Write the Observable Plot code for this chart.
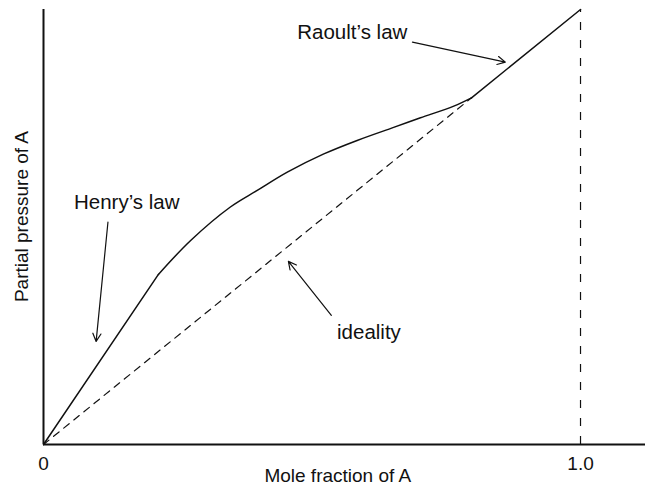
<!DOCTYPE html>
<html>
<head>
<meta charset="utf-8">
<script src="https://cdn.jsdelivr.net/npm/d3@7"></script>
<script src="https://cdn.jsdelivr.net/npm/@observablehq/plot@0.6"></script>
<style>
  html, body { margin: 0; padding: 0; background: #fff; }
</style>
</head>
<body>
<div id="chart"></div>
<script>
// Tick values and labels
const xTicks = [0, 1];
const xTickLabels = ["0", "1.0"];

// Henry's law segment (straight, from origin)
const henryX = [0, 0.214];
const henryY = [0, 0.391];

// Non-ideal curve between Henry and Raoult regions
const curveX = [0.214, 0.274, 0.348, 0.398, 0.454, 0.522, 0.584, 0.652, 0.702, 0.764, 0.797];
const curveY = [0.391, 0.469, 0.546, 0.584, 0.626, 0.668, 0.699, 0.729, 0.751, 0.778, 0.797];

// Raoult's law segment (straight, to pure A)
const raoultX = [0.797, 1.0];
const raoultY = [0.797, 1.0];

// Ideality dashed line
const idealX = [0, 0.797];
const idealY = [0, 0.797];

// Annotations
const labelText = ["Raoult\u2019s law", "Henry\u2019s law", "ideality"];
const labelX = [0.575, 0.155, 0.606];
const labelY = [0.948, 0.557, 0.258];
const arrowX1 = [0.687, 0.120, 0.536];
const arrowY1 = [0.925, 0.511, 0.297];
const arrowX2 = [0.860, 0.098, 0.456];
const arrowY2 = [0.879, 0.237, 0.421];

const xTitle = "Mole fraction of A";
const yTitle = "Partial pressure of A";
const xTitlePos = 0.548;
const yTitlePos = 0.524;

const toRows = (xs, ys) => xs.map((x, i) => ({x, y: ys[i]}));
const labels = labelText.map((t, i) => ({t, x: labelX[i], y: labelY[i]}));
const arrows = arrowX1.map((x1, i) => ({x1, y1: arrowY1[i], x2: arrowX2[i], y2: arrowY2[i]}));

const ink = "#111";
const chart = Plot.plot({
  width: 645,
  height: 487,
  marginLeft: 43,
  marginRight: 0,
  marginTop: 9,
  marginBottom: 43,
  style: {fontFamily: "'Liberation Sans', Arial, Helvetica, sans-serif", fontSize: "19px", color: ink, background: "#fff"},
  x: {domain: [0, 1.121], ticks: xTicks, tickFormat: d => xTickLabels[xTicks.indexOf(d)], tickSize: 0, tickPadding: 12, label: null},
  y: {domain: [0, 1], axis: null},
  marks: [
    Plot.ruleX([1], {y1: 0, y2: 1, stroke: ink, strokeWidth: 1.2, strokeDasharray: "8,10"}),
    Plot.line(toRows(idealX, idealY), {x: "x", y: "y", stroke: ink, strokeWidth: 1.2, strokeDasharray: "7,6"}),
    Plot.line(toRows(henryX, henryY), {x: "x", y: "y", stroke: ink, strokeWidth: 1.5}),
    Plot.line(toRows(curveX, curveY), {x: "x", y: "y", stroke: ink, strokeWidth: 1.5, curve: "catmull-rom"}),
    Plot.line(toRows(raoultX, raoultY), {x: "x", y: "y", stroke: ink, strokeWidth: 1.5}),
    Plot.ruleX([0], {y1: 0, y2: 1, stroke: ink, strokeWidth: 2}),
    Plot.ruleY([0], {stroke: ink, strokeWidth: 2}),
    Plot.arrow(arrows, {x1: "x1", y1: "y1", x2: "x2", y2: "y2", stroke: ink, strokeWidth: 1.2, headLength: 11, headAngle: 55}),
    Plot.text(labels, {x: "x", y: "y", text: "t", fontSize: 20.5, fill: ink}),
    Plot.text([xTitle], {x: xTitlePos, frameAnchor: "bottom", lineAnchor: "middle", textAnchor: "middle", dy: 31, fontSize: 19, fill: ink}),
    Plot.text([yTitle], {y: yTitlePos, frameAnchor: "left", textAnchor: "middle", lineAnchor: "middle", dx: -22, rotate: -90, fontSize: 19, fill: ink})
  ]
});
document.getElementById("chart").appendChild(chart);
</script>
</body>
</html>
